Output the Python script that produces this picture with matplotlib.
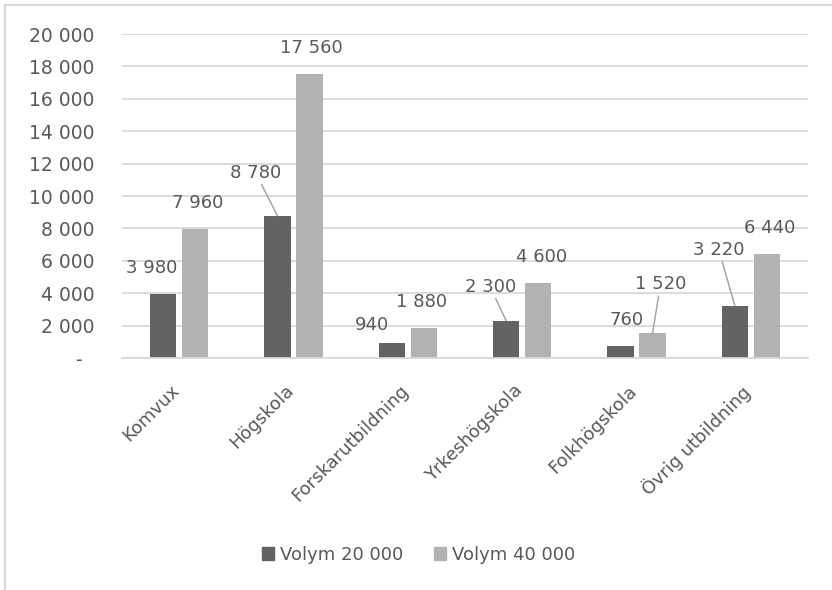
import numpy as np
import matplotlib
matplotlib.use("Agg")
import matplotlib.pyplot as plt
from matplotlib.patches import Patch
from matplotlib.lines import Line2D
from matplotlib.transforms import ScaledTranslation

categories = ["Komvux", "Högskola", "Forskarutbildning", "Yrkeshögskola",
              "Folkhögskola", "Övrig utbildning"]
series_names = ["Volym 20 000", "Volym 40 000"]
vol20 = [3980, 8780, 940, 2300, 760, 3220]
vol40 = [7960, 17560, 1880, 4600, 1520, 6440]
yticks = [0, 2000, 4000, 6000, 8000, 10000, 12000, 14000, 16000, 18000, 20000]


def fmt(v):
    return f"{v:,}".replace(",", " ")


ytick_labels = ["-  " if v == 0 else fmt(v) for v in yticks]

# placering av dataetiketter (pixlar relativt stapeltoppen), ledarlinje ja/nej
off20 = [(-11, 26), (-22, 43), (-20, 18), (-16, 34), (6, 26), (-16, 56)]
off40 = [(3, 26), (2, 26), (-2, 26), (3, 26), (8, 49), (3, 26)]
lead20 = [False, True, False, True, False, True]
lead40 = [False, False, False, False, True, False]

TXT = "#595959"
DARK = "#636366"
LIGHT = "#b1b2b4"
GRID = "#d9d9d9"

plt.rcParams["font.family"] = ["DejaVu Sans"]

fig = plt.figure(figsize=(8.32, 5.9), dpi=100)
ax = fig.add_axes([122 / 832, 1 - 358 / 590, 686 / 832, 324 / 590])

x = np.arange(len(categories))
w = 0.23
d = 0.14
ax.bar(x - d, vol20, w, color=DARK, zorder=2)
ax.bar(x + d, vol40, w, color=LIGHT, zorder=2)

ax.set_xlim(-0.5, len(categories) - 0.5)
ax.set_ylim(0, 20000)
ax.set_yticks(yticks)
ax.set_yticklabels(ytick_labels)
ax.yaxis.grid(True, color=GRID, lw=1.3, zorder=0)
ax.set_axisbelow(True)
for s in ["top", "right", "left"]:
    ax.spines[s].set_visible(False)
ax.spines["bottom"].set_color(GRID)
ax.spines["bottom"].set_linewidth(1.3)
ax.tick_params(axis="y", length=0, pad=20, labelsize=13.5, labelcolor=TXT)
ax.tick_params(axis="x", length=0, pad=17, labelsize=13, labelcolor=TXT)
ax.set_xticks(x)
ax.set_xticklabels(categories, rotation=45, ha="right", va="top")
for lbl in ax.get_xticklabels():
    lbl.set_transform(lbl.get_transform() +
                      ScaledTranslation(4 / 100, 0, fig.dpi_scale_trans))

lp = dict(arrowstyle="-", color="#a6a6a6", lw=1.1, shrinkA=0, shrinkB=0)
for vals, offs, leads, sign in [(vol20, off20, lead20, -1), (vol40, off40, lead40, 1)]:
    for i, v in enumerate(vals):
        ax.annotate(fmt(v), xy=(x[i] + sign * d, v), xytext=offs[i],
                    textcoords="offset pixels", ha="center", va="center",
                    fontsize=13, color=TXT,
                    arrowprops=lp if leads[i] else None)

handles = [Patch(color=DARK), Patch(color=LIGHT)]
fig.legend(handles, series_names, loc="center", bbox_to_anchor=(0.503, 0.06),
           ncol=2, frameon=False, fontsize=13, labelcolor=TXT,
           handlelength=0.7, handleheight=0.7, handletextpad=0.3,
           columnspacing=1.7)

# ram runt diagramytan (vänster + topp)
fig.add_artist(Line2D([5 / 832, 5 / 832], [0, 1 - 5 / 590], color=GRID, lw=1.5))
fig.add_artist(Line2D([5 / 832, 1], [1 - 5 / 590, 1 - 5 / 590], color=GRID, lw=1.5))

fig.savefig("out.png", dpi=100)
